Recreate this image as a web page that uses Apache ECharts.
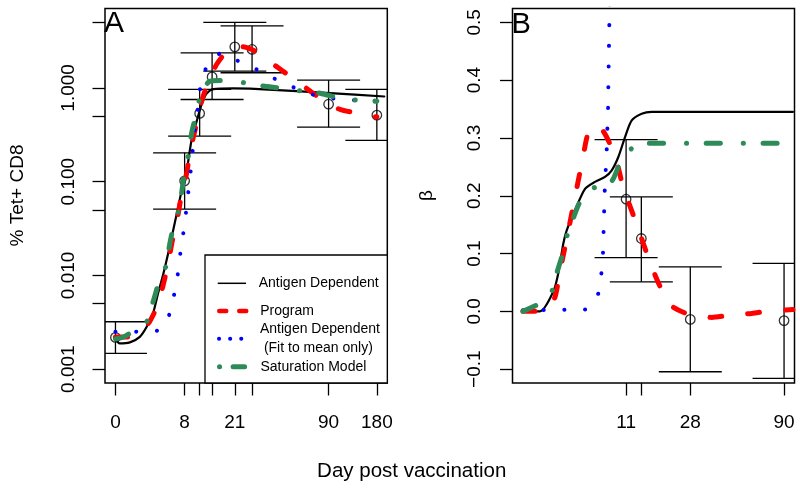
<!DOCTYPE html>
<html><head><meta charset="utf-8">
<script src="https://cdn.jsdelivr.net/npm/echarts@6.0.0/dist/echarts.min.js"></script>
<style>html,body{margin:0;padding:0;background:#fff}#c{width:800px;height:489px}</style>
</head><body><div id="c"></div>
<script>
// ---------- Panel A observations (% Tet+ CD8) ----------
const obsDaysA = [0, 8, 11, 14, 21, 28, 90, 180];
const obsMeanA = [0.00218, 0.102, 0.534, 1.31, 2.74, 2.57, 0.67, 0.512];
const obsLowA  = [0.00147, 0.051, 0.306, 0.752, 1.51, 1.45, 0.381, 0.275];
const obsHighA = [0.0032, 0.203, 0.962, 2.36, 4.99, 4.58, 1.21, 0.962];

// ---------- Panel B observations (beta) ----------
const obsDaysB = [11, 14, 28, 90];
const obsMeanB = [0.194, 0.126, -0.014, -0.016];
const obsLowB  = [0.093, 0.051, -0.1045, -0.116];
const obsHighB = [0.297, 0.198, 0.077, 0.083];

// ---------- Panel A model curves ----------
const daysA_ag = [0, 0.3, 1.1, 2, 2.7, 3.4, 4, 4.7, 5.4, 6.1, 6.9, 7.5, 8.1, 9.3, 10.4, 11.5, 12.6, 14.3, 20.5, 27, 56, 92, 200];
const valsA_ag = [0.00213, 0.00188, 0.00193, 0.00221, 0.00283, 0.00393, 0.0064, 0.0105, 0.0178, 0.0303, 0.0537, 0.081, 0.103, 0.276, 0.45, 0.68, 0.87, 0.97, 0.99, 0.98, 0.925, 0.88, 0.81];

const daysA_prog = [0, 1.2, 2, 3, 3.8, 4.6, 5.3, 6, 6.8, 7.5, 8.2, 9, 9.6, 10.5, 11.3, 12.3, 13.8, 15.3, 17.5, 20, 24, 27, 32, 36.3, 44.7, 57.5, 70.2, 85.4, 106, 141.6, 180];
const valsA_prog = [0.0022, 0.0022, 0.0024, 0.0032, 0.0045, 0.0075, 0.013, 0.024, 0.042, 0.075, 0.11, 0.2, 0.29, 0.45, 0.68, 0.95, 1.37, 1.8, 2.3, 2.72, 2.75, 2.62, 2.3, 1.96, 1.54, 1.15, 0.90, 0.71, 0.59, 0.53, 0.49];

const daysA_agm = [0, 3.9, 5.48, 6.23, 6.82, 7.25, 7.77, 8.25, 8.68, 9.14, 9.54, 10.0, 10.6, 11.1, 12.5, 16, 17.5, 22.3, 30.2, 39.3, 51.3, 65.8, 85.4, 111.4, 150, 180];
const valsA_agm = [0.0025, 0.00257, 0.00377, 0.00616, 0.01024, 0.01713, 0.0284, 0.0468, 0.0776, 0.130, 0.216, 0.359, 0.6, 0.98, 1.63, 2.31, 2.33, 1.93, 1.575, 1.272, 1.045, 0.880, 0.798, 0.749, 0.736, 0.73];

const daysA_sat = [0, 0.6, 1.3, 2, 2.7, 3.4, 4.2, 5.1, 5.5, 6, 6.9, 7.5, 8.1, 8.8, 9.3, 10.2, 11.1, 12, 13.3, 16, 19, 25, 34.5, 46, 59, 76, 99, 126, 163, 180];
const valsA_sat = [0.0021, 0.0022, 0.0025, 0.0028, 0.0032, 0.0052, 0.0089, 0.0129, 0.020, 0.030, 0.0475, 0.078, 0.143, 0.199, 0.325, 0.51, 0.80, 1.0, 1.17, 1.2, 1.2, 1.13, 1.04, 0.98, 0.93, 0.89, 0.80, 0.75, 0.725, 0.72];

// ---------- Panel B model curves ----------
const daysB_ag = [0, 1.06, 2.04, 2.45, 2.88, 3.19, 3.99, 5.07, 6.27, 7.61, 8.61, 9.66, 10.81, 12.05, 14.08, 16.36, 100];
const valsB_ag = [0, 0, 0.034, 0.066, 0.117, 0.140, 0.175, 0.212, 0.224, 0.2325, 0.244, 0.267, 0.3016, 0.3305, 0.342, 0.345, 0.345];

const daysB_prog = [0, 1, 1.6, 2.18, 2.58, 3.03, 3.51, 4.0, 4.51, 4.84, 5.41, 6.06, 6.7, 7.29, 8.0, 8.85, 9.66, 10.5, 12.05, 13.04, 14.0, 16.36, 18.46, 20.3, 22.26, 26.7, 32, 37, 46.7, 61, 76.1, 100];
const valsB_prog = [0, 0, 0.004, 0.025, 0.068, 0.111, 0.155, 0.198, 0.241, 0.267, 0.308, 0.32, 0.32, 0.313, 0.298, 0.276, 0.248, 0.214, 0.174, 0.150, 0.127, 0.077, 0.043, 0.020, 0.007, -0.004, -0.009, -0.0105, -0.0065, -0.0036, 0.001, 0.003];

const daysB_agm = [0, 5.1, 6.66, 7.10, 7.33, 7.57, 7.86, 8.05, 8.24, 8.32];
const valsB_agm = [0.002, 0.003, 0.029, 0.064, 0.100, 0.208, 0.28, 0.352, 0.496, 0.56];

const daysB_sat = [0, 1.06, 1.91, 2.32, 2.74, 3.19, 3.82, 4.5, 5.86, 8.5, 9.94, 11.73, 13, 15.2, 100];
const valsB_sat = [0, 0.014, 0.034, 0.066, 0.094, 0.129, 0.161, 0.189, 0.212, 0.224, 0.256, 0.279, 0.288, 0.291, 0.291];

// ---------- ticks / labels ----------
const tickDaysA  = [0, 8, 11, 14, 21, 28, 90, 180];
const labelDaysA = [0, 8, 21, 90, 180];
const tickDaysB  = [11, 14, 28, 90];
const labelDaysB = [11, 28, 90];
const tickValsA  = [0.001, 0.005, 0.01, 0.05, 0.1, 0.5, 1, 5];
const labelValsA = [0.001, 0.01, 0.1, 1];
const tickValsB  = [-0.1, 0, 0.1, 0.2, 0.3, 0.4, 0.5];

const NAME_AG = 'Antigen Dependent';
const NAME_PROG = 'Program';
const NAME_AGM = 'Antigen Dependent\n (Fit to mean only)';
const NAME_SAT = 'Saturation Model';

// ---------- helpers ----------
const FONT = '"Liberation Sans", Arial, Helvetica, sans-serif';
const tx = d => Math.log(d + 5);          // axis transform for days
const ly = v => Math.log10(v);            // log scale for panel A
const pad = (a, b) => { const s = b - a; return [a - 0.04 * s, b + 0.04 * s]; };
const xRA = pad(tx(0), tx(180)), xRB = pad(tx(0), tx(90));
const yRA = pad(ly(0.001), ly(5)), yRB = pad(-0.1, 0.5);

const toA = (d, v) => d.map((x, i) => [tx(x), ly(v[i])]);
const toB = (d, v) => d.map((x, i) => [tx(x), v[i]]);
const errA = (d, lo, hi) => d.map((x, i) => [tx(x), ly(lo[i]), ly(hi[i])]);
const errB = (d, lo, hi) => d.map((x, i) => [tx(x), lo[i], hi[i]]);

const STY = {
  ag:   {color: '#000000', width: 2.2, type: 'solid', cap: 'round'},
  prog: {color: '#ff0000', width: 5, type: [12, 26], cap: 'round'},
  agm:  {color: '#0000ff', width: 4, type: [0.1, 20.6], cap: 'round'},
  sat:  {color: '#2e8b57', width: 5, type: [14, 23, 0.1, 19.6], cap: 'round'}
};
function lineS(name, data, sty, gi, smooth) {
  return {type: 'line', name, xAxisIndex: gi, yAxisIndex: gi, data, symbol: 'none', showSymbol: false,
    smooth: smooth, lineStyle: Object.assign({}, sty), itemStyle: {color: sty.color}, z: 3, silent: true, clip: true};
}
function errRender(params, api) {
  const x = api.value(0), lo = api.value(1), hi = api.value(2);
  const a = api.coord([x, lo]), b = api.coord([x, hi]);
  const hw = 31.5;
  const st = {stroke: '#000', lineWidth: 1.3, fill: null};
  return {type: 'group', children: [
    {type: 'line', shape: {x1: a[0], y1: a[1], x2: b[0], y2: b[1]}, style: st},
    {type: 'line', shape: {x1: a[0] - hw, y1: a[1], x2: a[0] + hw, y2: a[1]}, style: st},
    {type: 'line', shape: {x1: b[0] - hw, y1: b[1], x2: b[0] + hw, y2: b[1]}, style: st}
  ]};
}
const lblStyle = {fontFamily: FONT, fontSize: 19, color: '#000'};
const tickStyle = {show: true, length: 12.5, lineStyle: {color: '#000', width: 1.3}};
const noLine = {show: false, onZero: false};

function xAxisCfg(gi, range, ticks, labels) {
  return {type: 'value', gridIndex: gi, position: 'bottom', min: range[0], max: range[1],
    axisLine: noLine, splitLine: {show: false},
    axisTick: Object.assign({customValues: ticks.map(tx)}, tickStyle),
    axisLabel: Object.assign({customValues: labels.map(tx), margin: 30,
      formatter: v => String(Math.round(Math.exp(v) - 5))}, lblStyle)};
}

const legendBase = {orient: 'vertical', selectedMode: false, padding: 0, itemWidth: 36, itemHeight: 14, left: 217, z: 6,
  textStyle: {fontFamily: FONT, fontSize: 14, color: '#000', lineHeight: 19},
  itemStyle: {color: 'rgba(0,0,0,0)', borderColor: 'rgba(0,0,0,0)', borderWidth: 0}};

const option = {
  animation: false,
  backgroundColor: '#fff',
  grid: [
    {left: 105, top: 8.5, width: 282.3, height: 374.5, show: true, borderColor: '#000', borderWidth: 1.5, backgroundColor: 'transparent'},
    {left: 512.5, top: 8.5, width: 282, height: 374.5, show: true, borderColor: '#000', borderWidth: 1.5, backgroundColor: 'transparent'}
  ],
  xAxis: [
    xAxisCfg(0, xRA, tickDaysA, labelDaysA),
    xAxisCfg(1, xRB, tickDaysB, labelDaysB)
  ],
  yAxis: [
    {type: 'value', gridIndex: 0, position: 'left', min: yRA[0], max: yRA[1], axisLine: noLine, splitLine: {show: false},
      axisTick: Object.assign({customValues: tickValsA.map(ly)}, tickStyle),
      axisLabel: Object.assign({customValues: labelValsA.map(ly), rotate: 90, margin: 27,
        formatter: v => Math.pow(10, v).toFixed(3)}, lblStyle)},
    {type: 'value', gridIndex: 1, position: 'left', min: yRB[0], max: yRB[1], axisLine: noLine, splitLine: {show: false},
      axisTick: Object.assign({customValues: tickValsB}, tickStyle),
      axisLabel: Object.assign({customValues: tickValsB, rotate: 90, margin: 28,
        formatter: v => (v < -1e-9 ? '\u2212' : '') + Math.abs(v).toFixed(1)}, lblStyle)}
  ],
  legend: [
    Object.assign({}, legendBase, {top: 273.8, data: [{name: NAME_AG, lineStyle: {color: '#000', width: 1.5, type: [28.3, 60], cap: 'butt', dashOffset: 0}}]}),
    Object.assign({}, legendBase, {top: 301.5, data: [{name: NAME_PROG, lineStyle: {color: '#ff0000', width: 4.5, type: [7, 13, 7, 100], cap: 'round', dashOffset: 0}}]}),
    Object.assign({}, legendBase, {top: 319.8, data: [{name: NAME_AGM, lineStyle: {color: '#0000ff', width: 4, type: [0.1, 11, 0.1, 11, 0.1, 100], cap: 'round', dashOffset: 0}}]}),
    Object.assign({}, legendBase, {top: 357.2, data: [{name: NAME_SAT, lineStyle: {color: '#2e8b57', width: 5, type: [0.1, 13.5, 11.5, 100], cap: 'round', dashOffset: 0}}]})
  ],
  graphic: [
    {type: 'rect', z: 1, silent: true, shape: {x: 205, y: 255, width: 182.3, height: 128}, style: {fill: '#fff', stroke: '#000', lineWidth: 1.3}},
    {type: 'text', x: 104, y: 24, silent: true, style: {text: 'A', font: '30px ' + FONT, fontSize: 30, fontFamily: FONT, fill: '#000', align: 'left', verticalAlign: 'middle', textAlign: 'left', textVerticalAlign: 'middle'}},
    {type: 'text', x: 511.5, y: 24.5, silent: true, style: {text: 'B', font: '29px ' + FONT, fontSize: 29, fontFamily: FONT, fill: '#000', align: 'left', verticalAlign: 'middle', textAlign: 'left', textVerticalAlign: 'middle'}},
    {type: 'text', x: 17.6, y: 195.5, rotation: Math.PI / 2, silent: true, style: {text: '% Tet+ CD8', font: '19px ' + FONT, fontSize: 19, fontFamily: FONT, fill: '#000', align: 'center', verticalAlign: 'middle', textAlign: 'center', textVerticalAlign: 'middle'}},
    {type: 'text', x: 427, y: 195.5, rotation: Math.PI / 2, silent: true, style: {text: '\u03b2', font: '19px ' + FONT, fontSize: 19, fontFamily: FONT, fill: '#000', align: 'center', verticalAlign: 'middle', textAlign: 'center', textVerticalAlign: 'middle'}},
    {type: 'text', x: 411.7, y: 471.5, silent: true, style: {text: 'Day post vaccination', font: '20.5px ' + FONT, fontSize: 20.5, fontFamily: FONT, fill: '#000', align: 'center', verticalAlign: 'middle', textAlign: 'center', textVerticalAlign: 'middle'}}
  ],
  series: [
    {type: 'custom', name: 'Observed A error', xAxisIndex: 0, yAxisIndex: 0, clip: true, silent: true, z: 2,
      encode: {x: 0, y: [1, 2]}, renderItem: errRender, data: errA(obsDaysA, obsLowA, obsHighA)},
    {type: 'scatter', name: 'Observed A', xAxisIndex: 0, yAxisIndex: 0, silent: true, z: 2, symbol: 'circle', symbolSize: 9.5,
      itemStyle: {color: 'rgba(0,0,0,0)', borderColor: '#000', borderWidth: 1.3}, data: toA(obsDaysA, obsMeanA)},
    lineS(NAME_AG, toA(daysA_ag, valsA_ag), STY.ag, 0, 0.25),
    lineS(NAME_PROG, toA(daysA_prog, valsA_prog), STY.prog, 0, 0.25),
    lineS(NAME_AGM, toA(daysA_agm, valsA_agm), STY.agm, 0, 0.25),
    lineS(NAME_SAT, toA(daysA_sat, valsA_sat), STY.sat, 0, 0.25),

    {type: 'custom', name: 'Observed B error', xAxisIndex: 1, yAxisIndex: 1, clip: true, silent: true, z: 2,
      encode: {x: 0, y: [1, 2]}, renderItem: errRender, data: errB(obsDaysB, obsLowB, obsHighB)},
    {type: 'scatter', name: 'Observed B', xAxisIndex: 1, yAxisIndex: 1, silent: true, z: 2, symbol: 'circle', symbolSize: 9.5,
      itemStyle: {color: 'rgba(0,0,0,0)', borderColor: '#000', borderWidth: 1.3}, data: toB(obsDaysB, obsMeanB)},
    lineS(NAME_AG, toB(daysB_ag, valsB_ag), STY.ag, 1, 0.25),
    lineS(NAME_PROG, toB(daysB_prog, valsB_prog), STY.prog, 1, 0.25),
    lineS(NAME_AGM, toB(daysB_agm, valsB_agm), STY.agm, 1, 0),
    lineS(NAME_SAT, toB(daysB_sat, valsB_sat), STY.sat, 1, 0.25)
  ]
};
const chart = echarts.init(document.getElementById('c'), null, {renderer: 'canvas'});
chart.setOption(option);
</script></body></html>
